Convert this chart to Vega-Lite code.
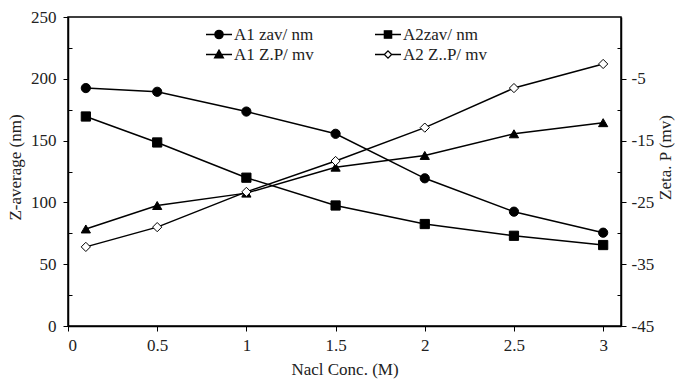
{
  "$schema": "https://vega.github.io/schema/vega-lite/v6.json",
  "width": 553,
  "height": 309,
  "autosize": "none",
  "padding": {"left": 68, "top": 17, "right": 60, "bottom": 54},
  "background": "white",
  "config": {
    "font": "Liberation Serif",
    "view": {"stroke": "black", "strokeWidth": 1.5},
    "axis": {
      "grid": false,
      "domainColor": "black",
      "domainWidth": 1.5,
      "tickColor": "black",
      "tickWidth": 1,
      "labelFont": "Liberation Serif",
      "labelFontSize": 17,
      "labelColor": "#222",
      "titleFont": "Liberation Serif",
      "titleFontSize": 17,
      "titleFontWeight": "normal",
      "titleColor": "#222"
    }
  },
  "datasets": {
    "zav": [
      {"conc": 0.1, "series": "A1 zav/ nm", "value": 192.5},
      {"conc": 0.5, "series": "A1 zav/ nm", "value": 189.5},
      {"conc": 1.0, "series": "A1 zav/ nm", "value": 173.5},
      {"conc": 1.5, "series": "A1 zav/ nm", "value": 155.5},
      {"conc": 2.0, "series": "A1 zav/ nm", "value": 119.5},
      {"conc": 2.5, "series": "A1 zav/ nm", "value": 92.5},
      {"conc": 3.0, "series": "A1 zav/ nm", "value": 75.5},
      {"conc": 0.1, "series": "A2zav/ nm", "value": 169.5},
      {"conc": 0.5, "series": "A2zav/ nm", "value": 148.5},
      {"conc": 1.0, "series": "A2zav/ nm", "value": 120.0},
      {"conc": 1.5, "series": "A2zav/ nm", "value": 97.5},
      {"conc": 2.0, "series": "A2zav/ nm", "value": 82.5},
      {"conc": 2.5, "series": "A2zav/ nm", "value": 73.0},
      {"conc": 3.0, "series": "A2zav/ nm", "value": 65.5}
    ],
    "zp": [
      {"conc": 0.1, "series": "A1 Z.P/ mv", "value": -29.3},
      {"conc": 0.5, "series": "A1 Z.P/ mv", "value": -25.5},
      {"conc": 1.0, "series": "A1 Z.P/ mv", "value": -23.5},
      {"conc": 1.5, "series": "A1 Z.P/ mv", "value": -19.3},
      {"conc": 2.0, "series": "A1 Z.P/ mv", "value": -17.4},
      {"conc": 2.5, "series": "A1 Z.P/ mv", "value": -13.9},
      {"conc": 3.0, "series": "A1 Z.P/ mv", "value": -12.1},
      {"conc": 0.1, "series": "A2 Z..P/ mv", "value": -32.2},
      {"conc": 0.5, "series": "A2 Z..P/ mv", "value": -29.0},
      {"conc": 1.0, "series": "A2 Z..P/ mv", "value": -23.3},
      {"conc": 1.5, "series": "A2 Z..P/ mv", "value": -18.3},
      {"conc": 2.0, "series": "A2 Z..P/ mv", "value": -12.9},
      {"conc": 2.5, "series": "A2 Z..P/ mv", "value": -6.5},
      {"conc": 3.0, "series": "A2 Z..P/ mv", "value": -2.6}
    ]
  },
  "layer": [
    {
      "data": {"name": "zav"},
      "encoding": {
        "x": {
          "field": "conc", "type": "quantitative",
          "scale": {"domain": [0, 3.1], "nice": false, "zero": false},
          "axis": {
            "title": "Nacl Conc. (M)",
            "values": [0, 0.5, 1, 1.5, 2, 2.5, 3],
            "format": "~g",
            "tickSize": 5,
            "labelPadding": 6,
            "titlePadding": 8
          }
        },
        "y": {
          "field": "value", "type": "quantitative",
          "scale": {"domain": [0, 250], "nice": false},
          "axis": {
            "orient": "left",
            "title": "Z-average (nm)",
            "values": [0, 25, 50, 75, 100, 125, 150, 175, 200, 225, 250],
            "labelExpr": "datum.value % 50 == 0 ? datum.value + '' : ''",
            "tickSize": {"condition": {"test": "datum.value % 50 == 0", "value": 5}, "value": -4},
            "labelPadding": 7,
            "titlePadding": 6,
            "titleY": 150
          }
        }
      },
      "layer": [
        {
          "mark": {"type": "line", "color": "black", "strokeWidth": 1.5},
          "encoding": {"detail": {"field": "series"}}
        },
        {
          "mark": {"type": "point", "filled": true, "stroke": "black", "strokeWidth": 1, "opacity": 1, "size": 85},
          "encoding": {
            "shape": {
              "field": "series", "type": "nominal", "legend": null,
              "scale": {"domain": ["A1 zav/ nm", "A2zav/ nm", "A1 Z.P/ mv", "A2 Z..P/ mv"], "range": ["circle", "square", "triangle-up", "diamond"]}
            },
            "fill": {
              "field": "series", "type": "nominal", "legend": null,
              "scale": {"domain": ["A1 zav/ nm", "A2zav/ nm", "A1 Z.P/ mv", "A2 Z..P/ mv"], "range": ["black", "black", "black", "white"]}
            }
          }
        }
      ]
    },
    {
      "data": {"name": "zp"},
      "encoding": {
        "x": {"field": "conc", "type": "quantitative", "scale": {"domain": [0, 3.1], "nice": false, "zero": false}},
        "y": {
          "field": "value", "type": "quantitative",
          "scale": {"domain": [-45, 5], "nice": false, "zero": false},
          "axis": {
            "orient": "right",
            "title": "Zeta. P (mv)",
            "titleAngle": 270,
            "titleBaseline": "top",
            "titleY": 140,
            "values": [-45, -40, -35, -30, -25, -20, -15, -10, -5, 0],
            "labelExpr": "(datum.value + 45) % 10 == 0 ? datum.value + '' : ''",
            "tickSize": {"condition": {"test": "(datum.value + 45) % 10 == 0", "value": 5}, "value": -4},
            "labelPadding": 5,
            "titlePadding": 4
          }
        }
      },
      "layer": [
        {
          "mark": {"type": "line", "color": "black", "strokeWidth": 1.5},
          "encoding": {"detail": {"field": "series"}}
        },
        {
          "mark": {"type": "point", "filled": true, "stroke": "black", "strokeWidth": 1, "opacity": 1, "size": 85},
          "encoding": {
            "shape": {
              "field": "series", "type": "nominal", "legend": null,
              "scale": {"domain": ["A1 zav/ nm", "A2zav/ nm", "A1 Z.P/ mv", "A2 Z..P/ mv"], "range": ["circle", "square", "triangle-up", "diamond"]}
            },
            "fill": {
              "field": "series", "type": "nominal", "legend": null,
              "scale": {"domain": ["A1 zav/ nm", "A2zav/ nm", "A1 Z.P/ mv", "A2 Z..P/ mv"], "range": ["black", "black", "black", "white"]}
            }
          }
        }
      ]
    },
    {
      "data": {"name": "zav"},
      "transform": [{"filter": "false"}],
      "mark": {"type": "point", "filled": false, "strokeWidth": 1.3, "opacity": 1},
      "encoding": {
        "shape": {
          "field": "series", "type": "nominal",
          "scale": {
            "domain": ["A1 zav/ nm", "A2zav/ nm", "A1 Z.P/ mv", "A2 Z..P/ mv"],
            "range": [
              "M-1,0H1M0.32,0A0.32,0.32,0,1,1,-0.32,0A0.32,0.32,0,1,1,0.32,0Z",
              "M-1,0H1M-0.28,-0.28H0.28V0.28H-0.28Z",
              "M-1,0H1M0,-0.34L0.34,0.26H-0.34Z",
              "M-1,0H-0.28M0.28,0H1M0,-0.28L0.28,0L0,0.28L-0.28,0Z"
            ]
          },
          "legend": {
            "title": null, "orient": "none", "legendX": 137, "legendY": 9,
            "direction": "horizontal",
            "columns": 2, "columnPadding": 60, "rowPadding": 2, "padding": 0,
            "symbolSize": 676, "clipHeight": 17,
            "labelFont": "Liberation Serif", "labelFontSize": 17, "labelColor": "#222", "labelOffset": 1,
            "symbolStrokeWidth": 1.3, "symbolOpacity": 1
          }
        },
        "fill": {
          "field": "series", "type": "nominal",
          "scale": {"domain": ["A1 zav/ nm", "A2zav/ nm", "A1 Z.P/ mv", "A2 Z..P/ mv"], "range": ["black", "black", "black", "white"]},
          "legend": {
            "title": null, "orient": "none", "legendX": 137, "legendY": 9,
            "direction": "horizontal",
            "columns": 2, "columnPadding": 60, "rowPadding": 2, "padding": 0,
            "symbolSize": 676, "clipHeight": 17,
            "labelFont": "Liberation Serif", "labelFontSize": 17, "labelColor": "#222", "labelOffset": 1,
            "symbolStrokeWidth": 1.3, "symbolOpacity": 1
          }
        },
        "stroke": {
          "field": "series", "type": "nominal",
          "scale": {"domain": ["A1 zav/ nm", "A2zav/ nm", "A1 Z.P/ mv", "A2 Z..P/ mv"], "range": ["black", "black", "black", "black"]},
          "legend": {
            "title": null, "orient": "none", "legendX": 137, "legendY": 9,
            "direction": "horizontal",
            "columns": 2, "columnPadding": 60, "rowPadding": 2, "padding": 0,
            "symbolSize": 676, "clipHeight": 17,
            "labelFont": "Liberation Serif", "labelFontSize": 17, "labelColor": "#222", "labelOffset": 1,
            "symbolStrokeWidth": 1.3, "symbolOpacity": 1
          }
        }
      }
    }
  ],
  "resolve": {"scale": {"y": "independent", "shape": "independent", "fill": "independent", "stroke": "independent"}}
}
